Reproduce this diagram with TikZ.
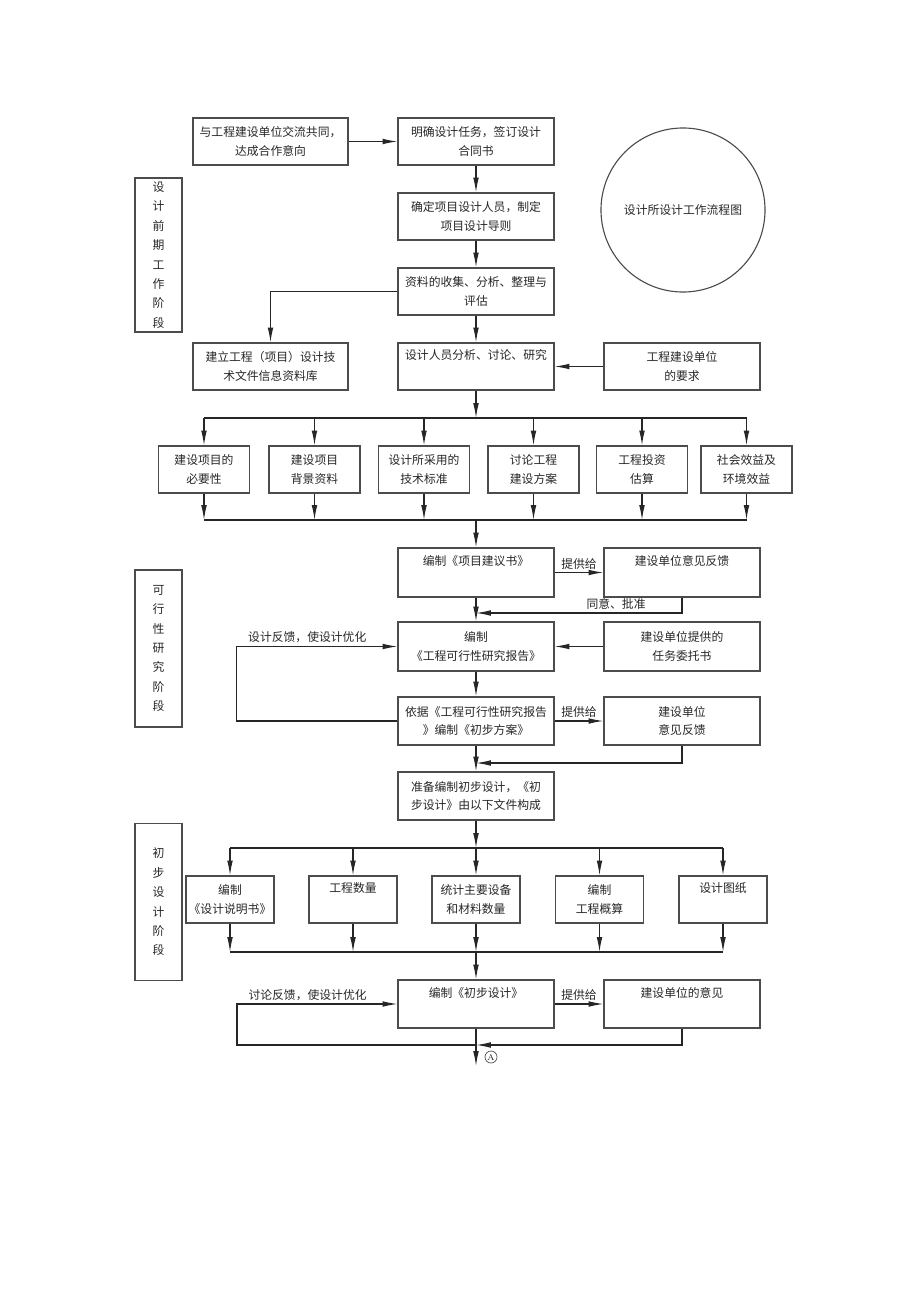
\documentclass[tikz,border=0pt]{standalone}
\usepackage{fontspec}
\usetikzlibrary{arrows.meta}
\newfontfamily\cjk{Noto Sans CJK SC}

\begin{document}
\begin{tikzpicture}[x=0.025cm, y=-0.025cm, >={Latex[length=10.5pt,width=4pt]},
    line width=0.8pt, color=black!85,
    font=\cjk\fontsize{8.4}{13}\selectfont,
    box/.style={draw=black!70, align=center, inner sep=1pt,
                minimum width=3.9cm, minimum height=1.175cm},
    stage/.style={draw=black!70, align=center, inner sep=1pt,
                  minimum width=1.175cm, minimum height=3.925cm,
                  font=\cjk\fontsize{8.4}{13.8}\selectfont},
    lbl/.style={above, inner sep=2pt}]

    \useasboundingbox (0,0) rectangle (920,1301);

    % 定义公共变量
    \def\smallw{2.275cm}   % 第一排小框宽度
    \def\midw{2.2cm}       % 第二排小框宽度

    % 左侧阶段框
    \node[stage, minimum height=3.85cm] (s1) at (158.5,255) {设\\计\\前\\期\\工\\作\\阶\\段};
    \node[stage] (s2) at (158.5,648.5) {可\\行\\性\\研\\究\\阶\\段};
    \node[stage] (s3) at (158.5,902) {初\\步\\设\\计\\阶\\段};

    % 标题圆
    \node[circle, draw=black!70, minimum size=4.1cm] (title) at (683,210) {设计所设计工作流程图};

    % 设计前期工作
    \node[box, minimum width=3.875cm] (hz) at (270.5,141.5) {与工程建设单位交流共同，\\达成合作意向};
    \node[box] (rw) at (476,141.5) {明确设计任务，签订设计\\合同书};
    \node[box] (ry) at (476,216.5) {确定项目设计人员，制定\\项目设计导则};
    \node[box] (zl) at (476,291.5) {资料的收集、分析、整理与\\评估};
    \node[box, minimum width=3.875cm] (zk) at (270.5,366.5) {建立工程（项目）设计技\\术文件信息资料库};
    \node[box] (fx) at (476,366.5) {设计人员分析、讨论、研究\\\strut};
    \node[box] (yq) at (682,366.5) {工程建设单位\\的要求};

    \draw[->] (hz) -- (rw);
    \draw[->] (rw) -- (ry);
    \draw[->] (ry) -- (zl);
    \draw[->] (zl.west) -| (zk.north);
    \draw[->] (zl) -- (fx);
    \draw[->] (yq) -- (fx);

    % 总线
    \coordinate (busA) at (476,418);
    \coordinate (busB) at (476,520);
    \draw[->] (fx) -- (busA);

    % 第一排:6个框
    \foreach \i/\xpos/\txt in {1/204/{建设项目的\\必要性}, 2/314.5/{建设项目\\背景资料},
        3/424/{设计所采用的\\技术标准}, 4/533.5/{讨论工程\\建设方案},
        5/642/{工程投资\\估算}, 6/746.5/{社会效益及\\环境效益}} {
      \node[box, minimum width=\smallw] (a\i) at (\xpos,469.5) {\txt};
      \draw[->] (a\i.north |- busA) -- (a\i.north);
      \draw[->] (a\i.south) -- (a\i.south |- busB);
    }
    \draw (a1.north |- busA) -- (a6.north |- busA);
    \draw (a1.south |- busB) -- (a6.south |- busB);

    % 可行性研究
    \node[box, minimum height=1.225cm] (jy) at (476,572.5) {编制《项目建议书》\\\strut};
    \node[box, minimum height=1.225cm] (fk1) at (682,572.5) {建设单位意见反馈\\\strut};
    \node[box, minimum height=1.225cm] (kx) at (476,646.5) {编制\\《工程可行性研究报告》};
    \node[box, minimum height=1.225cm] (wt) at (682,646.5) {建设单位提供的\\任务委托书};
    \node[box, minimum height=1.2cm] (fa) at (476,721) {依据《工程可行性研究报告\\》编制《初步方案》};
    \node[box, minimum height=1.2cm] (fk2) at (682,721) {建设单位\\意见反馈};

    \coordinate (ty) at (476,613);
    \coordinate (hk) at (476,763);

    \draw[->] (busB) -- (jy);
    \draw[->] (jy) -- node[lbl] {提供给} (fk1);
    \draw[->] (fk1.south) |- node[lbl, pos=0.66] {同意、批准} (ty);
    \draw[->] (jy) -- (kx);
    \draw[->] (wt) -- (kx);
    \draw[->] (kx) -- (fa);
    \draw[->] (fa) -- node[lbl] {提供给} (fk2);
    \draw[->] (fa.west) -- ++(-161,0) |- node[lbl, pos=0.72] {设计反馈，使设计优化} (kx.west);
    \draw[->] (fk2.south) |- (hk);

    % 初步设计
    \node[box, minimum height=1.2cm] (zb) at (476,796) {准备编制初步设计，《初\\步设计》由以下文件构成};
    \draw[->] (fa) -- (zb);

    \coordinate (busC) at (476,848);
    \coordinate (busD) at (476,952);
    \draw[->] (zb) -- (busC);

    % 第二排:5个框
    \foreach \i/\xpos/\txt in {1/230/{编制\\《设计说明书》}, 2/353/{工程数量\\\strut},
        3/476/{统计主要设备\\和材料数量}, 4/599.5/{编制\\工程概算}, 5/723/{设计图纸\\\strut}} {
      \node[box, minimum width=\midw] (b\i) at (\xpos,899.5) {\txt};
      \draw[->] (b\i.north |- busC) -- (b\i.north);
      \draw[->] (b\i.south) -- (b\i.south |- busD);
    }
    \draw (b1.north |- busC) -- (b5.north |- busC);
    \draw (b1.south |- busD) -- (b5.south |- busD);

    \node[box, minimum height=1.2cm] (cb) at (476,1004) {编制《初步设计》\\\strut};
    \node[box, minimum height=1.2cm] (yj) at (682,1004) {建设单位的意见\\\strut};

    \coordinate (hl) at (476,1045);
    \coordinate (endA) at (476,1066);
    \node[circle, draw=black!70, inner sep=0.6pt, line width=0.5pt,
          font=\fontsize{6}{6}\selectfont] (mA) at (491,1057) {A};

    \draw[->] (busD) -- (cb);
    \draw[->] (cb) -- node[lbl] {提供给} (yj);
    \draw[->] (yj.south) |- (hl);
    \draw[->] (hl) -- ++(-239,0) |- node[lbl, pos=0.72] {讨论反馈，使设计优化} (cb.west);
    \draw[->] (cb) -- (endA);

\end{tikzpicture}
\end{document}
